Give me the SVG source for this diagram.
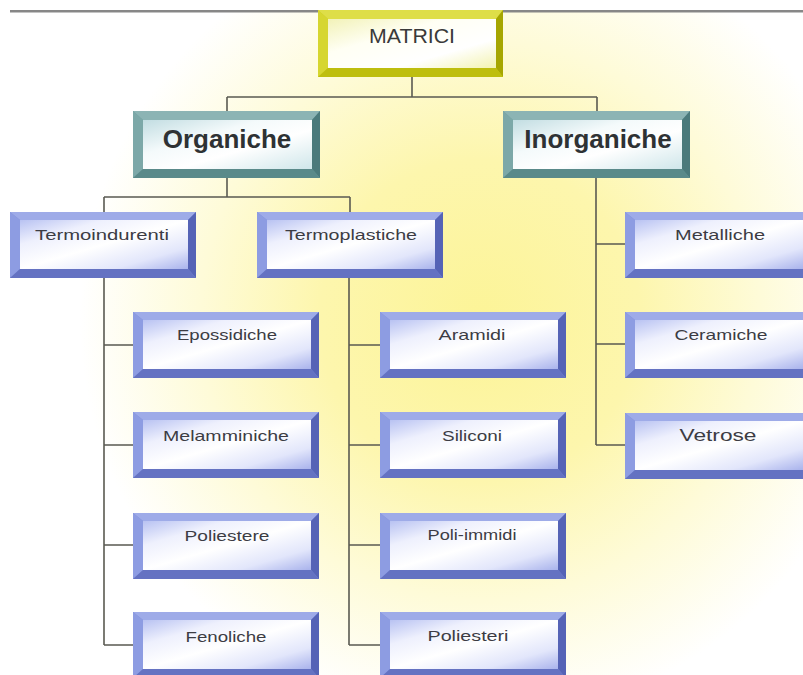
<svg xmlns="http://www.w3.org/2000/svg" xmlns:xlink="http://www.w3.org/1999/xlink" width="803" height="675" viewBox="0 0 803 675">
  <style>
    .conn { stroke: #5a5a52; stroke-width: 1.6; fill: none; }
    .lbl { font-family: "Liberation Sans", Arial, sans-serif; font-size: 15px; fill: #3c3c44; text-anchor: middle; }
    .big { font-family: "Liberation Sans", Arial, sans-serif; font-size: 26px; font-weight: bold; fill: #2e3234; text-anchor: middle; }
    .root { font-family: "Liberation Sans", Arial, sans-serif; font-size: 20px; fill: #3a3a3a; text-anchor: middle; }
  </style>
  <defs>
    <radialGradient id="bgGlow" cx="480" cy="320" r="400" gradientUnits="userSpaceOnUse">
      <stop offset="0" stop-color="#fcf497"/>
      <stop offset="0.4" stop-color="#fdf6ad"/>
      <stop offset="0.7" stop-color="#fefbd8"/>
      <stop offset="1" stop-color="#ffffff"/>
    </radialGradient>
    <linearGradient id="blueFace" x1="0" y1="0" x2="1" y2="1">
      <stop offset="0" stop-color="#b8c2f2"/>
      <stop offset="0.25" stop-color="#eef0fd"/>
      <stop offset="0.5" stop-color="#ffffff"/>
      <stop offset="0.78" stop-color="#e2e6fb"/>
      <stop offset="1" stop-color="#a9b3ec"/>
    </linearGradient>
    <linearGradient id="tealFace" x1="0" y1="0" x2="1" y2="1">
      <stop offset="0" stop-color="#c2dde2"/>
      <stop offset="0.35" stop-color="#f4fafb"/>
      <stop offset="0.6" stop-color="#ffffff"/>
      <stop offset="1" stop-color="#cfe6ea"/>
    </linearGradient>
    <linearGradient id="yellowFace" x1="0" y1="0" x2="1" y2="1">
      <stop offset="0" stop-color="#f2f2b8"/>
      <stop offset="0.35" stop-color="#fffff4"/>
      <stop offset="0.7" stop-color="#ffffff"/>
      <stop offset="1" stop-color="#f3f3b0"/>
    </linearGradient>
    <g id="blueBox">
      <rect x="0" y="0" width="186" height="66" fill="#7d8ed8"/>
      <polygon points="0,0 186,0 178,8 10,8" fill="#9eabe8"/>
      <polygon points="0,0 10,8 10,57 0,66" fill="#8d9ce2"/>
      <polygon points="186,0 186,66 178,57 178,8" fill="#5563b6"/>
      <polygon points="0,66 10,57 178,57 186,66" fill="#6472c2"/>
      <rect x="10" y="8" width="168" height="49" fill="url(#blueFace)"/>
    </g>
    <g id="tealBox">
      <rect x="0" y="0" width="187" height="67" fill="#6f9c9c"/>
      <polygon points="0,0 187,0 179,9 10,9" fill="#8cb4b4"/>
      <polygon points="0,0 10,9 10,58 0,67" fill="#7ca8a8"/>
      <polygon points="187,0 187,67 179,58 179,9" fill="#4b7a7b"/>
      <polygon points="0,67 10,58 179,58 187,67" fill="#5a8a8a"/>
      <rect x="10" y="9" width="169" height="49" fill="url(#tealFace)"/>
    </g>
  </defs>

  <rect x="0" y="0" width="803" height="675" fill="#ffffff"/>
  <rect x="10" y="12" width="793" height="663" fill="url(#bgGlow)"/>
  <rect x="10" y="10" width="793" height="2.5" fill="#878787"/>

  <g id="connectors">
    <path class="conn" d="M412,77 V97 M227,97 H597 M227,97 V111 M597,97 V111"/>
    <path class="conn" d="M227,178 V197 M104,197 H350 M104,197 V212 M350,197 V212"/>
    <path class="conn" d="M104,278 V645 M104,345 H133 M104,445 H133 M104,545 H133 M104,645 H133"/>
    <path class="conn" d="M349,278 V645 M349,345 H380 M349,445 H380 M349,545 H380 M349,645 H380"/>
    <path class="conn" d="M596,178 V445 M596,244 H625 M596,344 H625 M596,445 H625"/>
  </g>

  <g id="matrici">
    <rect x="318" y="10" width="185" height="67" fill="#cccc1c"/>
    <polygon points="318,10 503,10 496,19 328,19" fill="#dede48"/>
    <polygon points="318,10 328,19 328,68 318,77" fill="#d6d630"/>
    <polygon points="503,10 503,77 496,68 496,19" fill="#a6a600"/>
    <polygon points="318,77 328,68 496,68 503,77" fill="#bebe0e"/>
    <rect x="328" y="19" width="168" height="49" fill="url(#yellowFace)"/>
    <text class="root" x="412" y="43" textLength="86" lengthAdjust="spacingAndGlyphs">MATRICI</text>
  </g>

  <g id="organiche">
    <use xlink:href="#tealBox" x="133" y="111"/>
    <text class="big" x="227" y="148">Organiche</text>
  </g>
  <g id="inorganiche">
    <use xlink:href="#tealBox" x="503" y="111"/>
    <text class="big" x="598" y="148">Inorganiche</text>
  </g>

  <g id="termoindurenti">
    <use xlink:href="#blueBox" x="10" y="212"/>
    <text class="lbl" x="102" y="240" textLength="134" lengthAdjust="spacingAndGlyphs">Termoindurenti</text>
  </g>
  <g id="termoplastiche">
    <use xlink:href="#blueBox" x="257" y="212"/>
    <text class="lbl" x="351" y="240" textLength="132" lengthAdjust="spacingAndGlyphs">Termoplastiche</text>
  </g>

  <g id="epossidiche">
    <use xlink:href="#blueBox" x="133" y="312"/>
    <text class="lbl" x="227" y="340" textLength="100" lengthAdjust="spacingAndGlyphs">Epossidiche</text>
  </g>
  <g id="melamminiche">
    <use xlink:href="#blueBox" x="133" y="412"/>
    <text class="lbl" x="226" y="441" textLength="126" lengthAdjust="spacingAndGlyphs">Melamminiche</text>
  </g>
  <g id="poliestere">
    <use xlink:href="#blueBox" x="133" y="513"/>
    <text class="lbl" x="227" y="541" textLength="85" lengthAdjust="spacingAndGlyphs">Poliestere</text>
  </g>
  <g id="fenoliche">
    <use xlink:href="#blueBox" x="133" y="612"/>
    <text class="lbl" x="226" y="642" textLength="81" lengthAdjust="spacingAndGlyphs">Fenoliche</text>
  </g>

  <g id="aramidi">
    <use xlink:href="#blueBox" x="380" y="312"/>
    <text class="lbl" x="472" y="340" textLength="67" lengthAdjust="spacingAndGlyphs">Aramidi</text>
  </g>
  <g id="siliconi">
    <use xlink:href="#blueBox" x="380" y="412"/>
    <text class="lbl" x="472" y="441" textLength="60" lengthAdjust="spacingAndGlyphs">Siliconi</text>
  </g>
  <g id="poli-immidi">
    <use xlink:href="#blueBox" x="380" y="513"/>
    <text class="lbl" x="472" y="540" textLength="89" lengthAdjust="spacingAndGlyphs">Poli-immidi</text>
  </g>
  <g id="poliesteri">
    <use xlink:href="#blueBox" x="380" y="612"/>
    <text class="lbl" x="468" y="641" textLength="81" lengthAdjust="spacingAndGlyphs">Poliesteri</text>
  </g>

  <g id="metalliche">
    <use xlink:href="#blueBox" x="625" y="212"/>
    <text class="lbl" x="720" y="240" textLength="90" lengthAdjust="spacingAndGlyphs">Metalliche</text>
  </g>
  <g id="ceramiche">
    <use xlink:href="#blueBox" x="625" y="312"/>
    <text class="lbl" x="721" y="340" textLength="93" lengthAdjust="spacingAndGlyphs">Ceramiche</text>
  </g>
  <g id="vetrose">
    <use xlink:href="#blueBox" x="625" y="413"/>
    <text class="lbl" x="718" y="441" style="font-size:17px" textLength="77" lengthAdjust="spacingAndGlyphs">Vetrose</text>
  </g>
</svg>
